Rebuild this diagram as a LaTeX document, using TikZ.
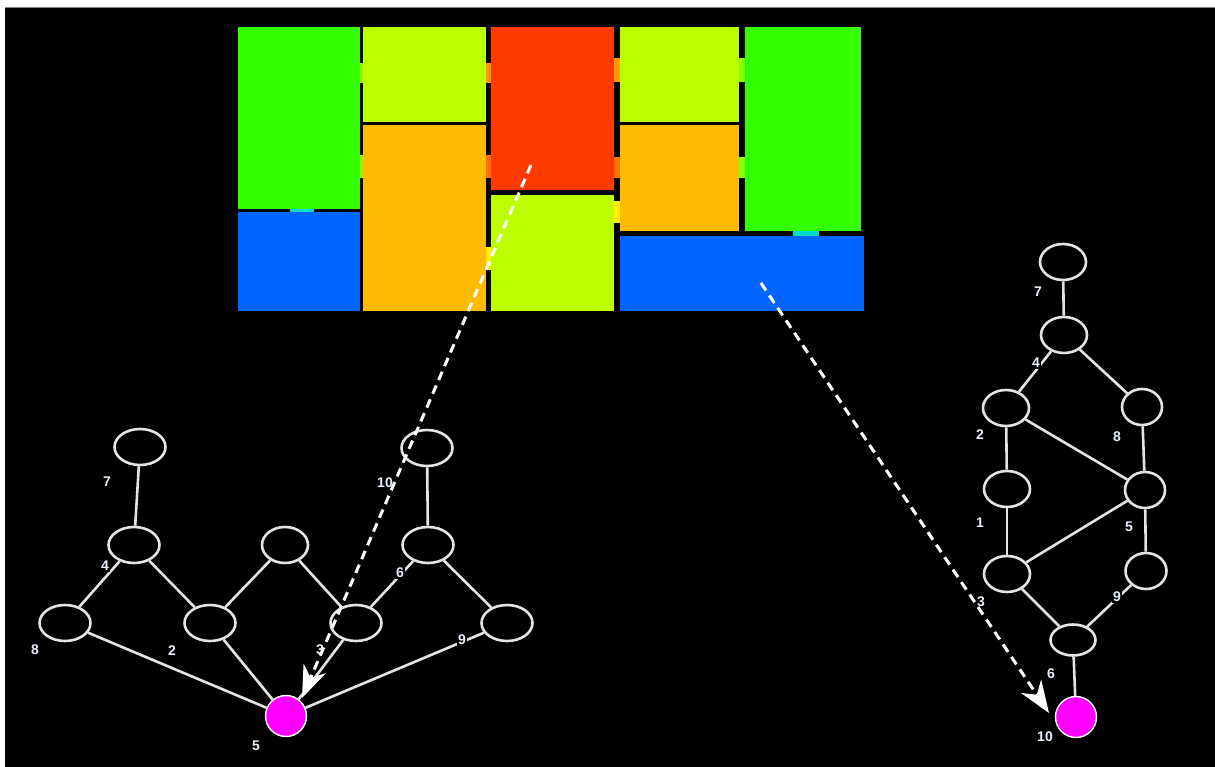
\documentclass[tikz,border=0pt]{standalone}
\usepackage{fontspec}
\setmainfont{Liberation Sans}
\usetikzlibrary{shapes.geometric,arrows.meta}
\definecolor{cgreen}{HTML}{33FF00}
\definecolor{cyg}{HTML}{BBFF00}
\definecolor{cred}{HTML}{FF3A00}
\definecolor{corange}{HTML}{FFBB00}
\definecolor{cblue}{HTML}{0066FF}
\definecolor{ccyan}{HTML}{00DDCC}
\definecolor{cgy}{HTML}{88FF00}
\definecolor{cor2}{HTML}{FF9900}
\definecolor{cor3}{HTML}{FF7000}
\definecolor{cyel}{HTML}{FFEE00}
\definecolor{edgec}{HTML}{E4E4E4}
\definecolor{labc}{HTML}{E8F0FF}
\definecolor{cpink}{HTML}{FF00FF}
\begin{document}
\begin{tikzpicture}[x=1pt,y=-1pt,
  ell/.style={ellipse,draw=edgec,line width=2.6pt,fill=black,minimum width=51pt,minimum height=36pt,inner sep=0pt},
  pinkn/.style={circle,draw=white,line width=1.4pt,fill=cpink,minimum size=41pt,inner sep=0pt},
  edge/.style={draw=edgec,line width=2.6pt},
  lab/.style={fill=black,text=labc,font=\fontsize{14}{14}\selectfont\bfseries,inner sep=1.5pt},
  darrow/.style={draw=white,line width=3pt,dash pattern=on 9pt off 6pt,-{Stealth[length=32pt,width=24pt,inset=10pt]}}
]
\useasboundingbox (0,0) rectangle (1215,767);
\fill[white] (0,0) rectangle (1215,767);
\fill[black] (5,7) rectangle (1215,767);
\draw[gray,line width=1pt] (5,7.5) -- (1215,7.5);

% treemap cells
\fill[cgreen]  (238,27) rectangle (360,209);
\fill[cblue]   (238,212) rectangle (360,311);
\fill[cyg]     (363,27) rectangle (486,122.5);
\fill[corange] (363,125.5) rectangle (486,311);
\fill[cred]    (491,27) rectangle (614,190);
\fill[cyg]     (491,195.5) rectangle (614,311);
\fill[cyg]     (619.5,27) rectangle (739,122.5);
\fill[corange] (619.5,125.5) rectangle (739,231);
\fill[cgreen]  (745,27) rectangle (861,231);
\fill[cblue]   (619.5,236) rectangle (864,311);
% gap marks
\fill[cgy]  (360,63) rectangle (363,83);
\fill[cgy]  (360,155) rectangle (363,178);
\fill[cor2] (486,63) rectangle (491,83);
\fill[cor3] (486,155) rectangle (491,178);
\fill[cyel] (486,247) rectangle (491,270);
\fill[cor2] (614,58) rectangle (619.5,82);
\fill[cor3] (614,157) rectangle (619.5,178);
\fill[cyel] (614,201) rectangle (619.5,223);
\fill[cgy]  (739,58) rectangle (745,82);
\fill[cgy]  (739,157) rectangle (745,178);
\fill[ccyan] (290,209) rectangle (314,212);
\fill[ccyan] (793,231) rectangle (819,236);

\coordinate (s1) at (531,165);
\coordinate (s2) at (761,283);
\coordinate (t1) at (302,698);
\coordinate (t2) at (1049,713);

% left graph
\node[ell] (a7)  at (140,447) {};
\node[ell] (a4)  at (134,545) {};
\node[ell] (a8)  at (65,623) {};
\node[ell] (a2)  at (210,623) {};
\node[ell,minimum width=46pt] (am) at (285,545) {};
\node[ell] (a3)  at (356,623) {};
\node[ell] (a10) at (427,448) {};
\node[ell] (a6)  at (428,545) {};
\node[ell] (a9)  at (507,623) {};
\node[pinkn] (a5) at (286,716) {};

\path[edge] (a7) -- (a4);
\path[edge] (a4) -- (a8);
\path[edge] (a4) -- (a2);
\path[edge] (am) -- (a2);
\path[edge] (am) -- (a3);
\path[edge] (a10) -- (a6);
\path[edge] (a6) -- (a3);
\path[edge] (a6) -- (a9);
\path[edge] (a8) -- (a5);
\path[edge] (a2) -- (a5);
\path[edge] (a3) -- (a5);
\path[edge] (a9) -- (a5);

\node[lab] (la7)  at (107,482) {7};
\node[lab] (la4)  at (105,566) {4};
\node[lab] (la8)  at (35,650) {8};
\node[lab] (la2)  at (172,651) {2};
\node[lab] (la3)  at (320,650) {3};
\node[lab] (la6)  at (400,573) {6};
\node[lab] (la10) at (385,483) {10};
\node[lab] (la9)  at (462,640) {9};
\node[lab] (la5)  at (256,746) {5};

% right graph
\node[ell,minimum width=46pt] (b7)  at (1063,262) {};
\node[ell,minimum width=46pt] (b4)  at (1064,335) {};
\node[ell,minimum width=46pt] (b2)  at (1006,408) {};
\node[ell,minimum width=40pt] (b8)  at (1142,407) {};
\node[ell,minimum width=46pt] (b1)  at (1007,489) {};
\node[ell,minimum width=40pt] (b5)  at (1145,490) {};
\node[ell,minimum width=46pt] (b3)  at (1007,574) {};
\node[ell,minimum width=41pt] (b9)  at (1146,571) {};
\node[ell,minimum width=45pt,minimum height=31pt] (b6)  at (1073,640) {};
\node[pinkn] (b10) at (1076,717) {};

\path[edge] (b7) -- (b4);
\path[edge] (b4) -- (b2);
\path[edge] (b4) -- (b8);
\path[edge] (b2) -- (b1);
\path[edge] (b2) -- (b5);
\path[edge] (b8) -- (b5);
\path[edge] (b1) -- (b3);
\path[edge] (b3) -- (b5);
\path[edge] (b5) -- (b9);
\path[edge] (b3) -- (b6);
\path[edge] (b9) -- (b6);
\path[edge] (b6) -- (b10);

\node[lab] (lb7)  at (1038,292) {7};
\node[lab] (lb4)  at (1036,363) {4};
\node[lab] (lb2)  at (980,435) {2};
\node[lab] (lb8)  at (1117,437) {8};
\node[lab] (lb1)  at (980,523) {1};
\node[lab] (lb5)  at (1129,527) {5};
\node[lab] (lb3)  at (981,602) {3};
\node[lab] (lb9)  at (1117,597) {9};
\node[lab] (lb6)  at (1051,674) {6};
\node[lab] (lb10) at (1045,737) {10};

% dashed arrows
\draw[darrow] (s1) -- (t1);
\draw[darrow] (s2) -- (t2);
\end{tikzpicture}
\end{document}
